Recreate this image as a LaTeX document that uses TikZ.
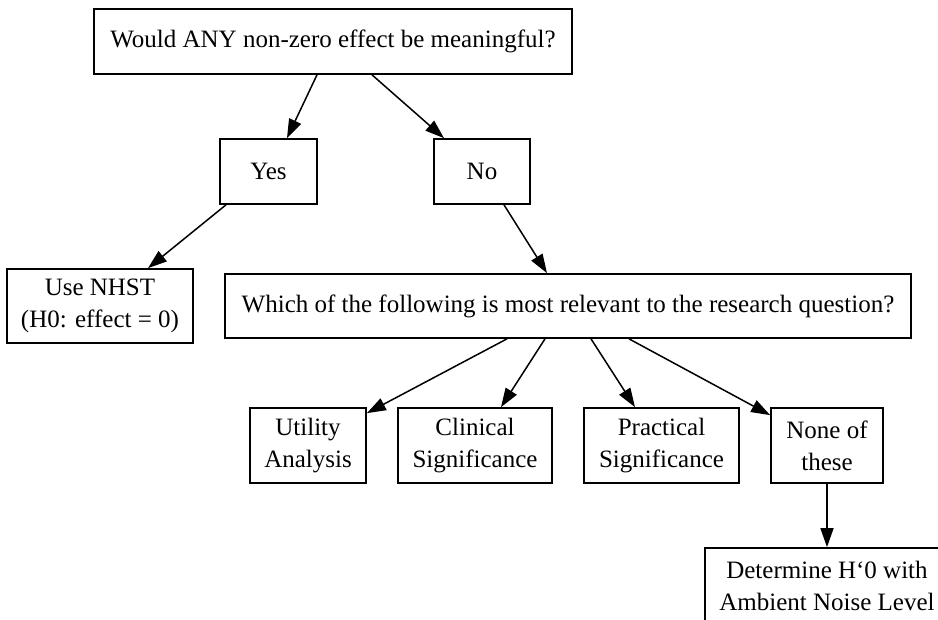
\documentclass[tikz,border=0pt]{standalone}
\usepackage{fontspec}
\setmainfont{Liberation Serif}
\usetikzlibrary{arrows.meta}
\tikzset{
    box/.style = {draw, line width=1.7pt, align=center, inner sep=0pt,
                  font=\fontsize{25}{32}\selectfont, minimum height=65pt},
    edge/.style = {line width=1.5pt, -{Triangle[length=19pt,width=13pt]}}
}
\begin{document}
\begin{tikzpicture}[x=1pt,y=-1pt]
                \useasboundingbox (0,0) rectangle (938,620);
                \node[box, minimum width=478pt] (ask) at (333,41.5) {Would ANY non-zero effect be meaningful?};
                \node[box, minimum width=97pt] (yes) at (268.5,171.5) {Yes};
                \node[box, minimum width=96pt] (no) at (482,171.5) {No};
                \node[box, minimum width=186pt, minimum height=74pt] (nhst) at (100,306) {Use NHST\\(H0: effect = 0)};
                \node[box, minimum width=686pt, minimum height=64pt] (which) at (568,306) {Which of the following is most relevant to the research question?};
                \node[box, minimum width=116pt, minimum height=75pt] (util) at (308,445.5) {Utility\\Analysis};
                \node[box, minimum width=154pt, minimum height=75pt] (clin) at (475,445.5) {Clinical\\Significance};
                \node[box, minimum width=155pt, minimum height=75pt] (prac) at (661.5,445.5) {Practical\\Significance};
                \node[box, minimum width=112pt, minimum height=75pt] (none) at (827,445.5) {None of\\these};
                \node[box, minimum width=244pt, minimum height=75pt] (det) at (827,585.5) {Determine H‘0 with\\Ambient Noise Level};
                \draw[edge] ([xshift=-16pt]ask.south) -- ([xshift=18.5pt]yes.north);
                \draw[edge] ([xshift=39pt]ask.south) -- ([xshift=-38pt]no.north);
                \draw[edge] ([xshift=-42.5pt]yes.south) -- ([xshift=48pt]nhst.north);
                \draw[edge] ([xshift=22pt]no.south) -- ([xshift=-21pt]which.north);
                \draw[edge] ([xshift=-61pt]which.south) -- ([yshift=-6pt]util.north east);
                \draw[edge] ([xshift=-23pt]which.south) -- ([xshift=26pt]clin.north);
                \draw[edge] ([xshift=23pt]which.south) -- ([xshift=-26.5pt]prac.north);
                \draw[edge] ([xshift=61pt]which.south) -- ([yshift=-8pt]none.north west);
                \draw[edge] (none.south) -- (det.north);
\end{tikzpicture}
\end{document}
